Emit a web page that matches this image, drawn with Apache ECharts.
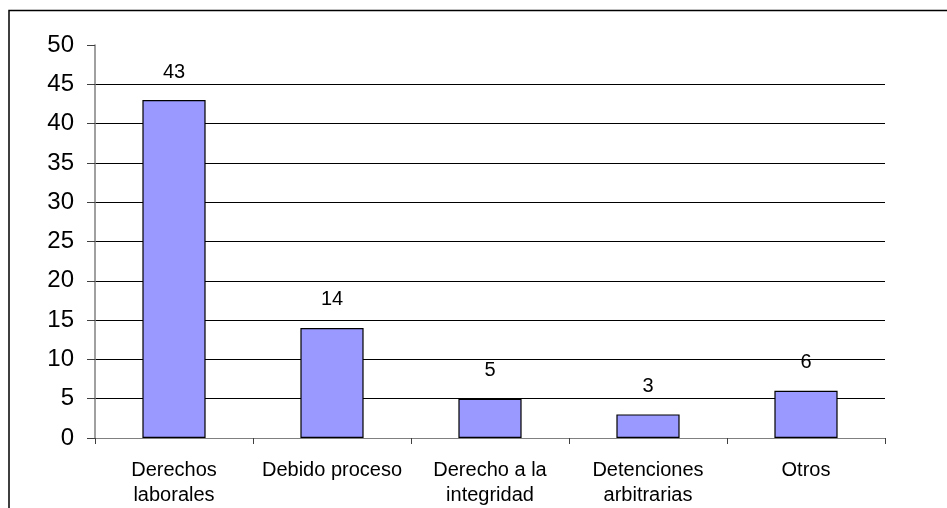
<!DOCTYPE html>
<html>
<head>
<meta charset="utf-8">
<script src="https://cdn.jsdelivr.net/npm/echarts@6/dist/echarts.min.js"></script>
<style>
html,body{margin:0;padding:0;background:#fff;}
#chart{width:947px;height:508px;}
</style>
</head>
<body>
<div id="chart"></div>
<script>
var categories = ['Derechos\nlaborales', 'Debido proceso', 'Derecho a la\nintegridad', 'Detenciones\narbitrarias', 'Otros'];
var values = [43, 14, 5, 3, 6];
var yTicks = {min: 0, max: 50, interval: 5};

var chart = echarts.init(document.getElementById('chart'), null, {renderer: 'canvas'});
var font = '"Liberation Sans", Arial, sans-serif';
chart.setOption({
  animation: false,
  backgroundColor: '#ffffff',
  graphic: [{
    type: 'rect',
    shape: {x: 9, y: 10.5, width: 1000, height: 600},
    style: {fill: 'none', stroke: '#000000', lineWidth: 1.5},
    silent: true
  }],
  grid: {left: 95, right: 62, top: 45, bottom: 70, containLabel: false},
  xAxis: {
    type: 'category',
    data: categories,
    boundaryGap: true,
    axisLine: {show: true, lineStyle: {color: '#808080', width: 1}},
    axisTick: {show: true, length: 6, lineStyle: {color: '#404040'}},
    axisLabel: {color: '#000', fontFamily: font, fontSize: 20, lineHeight: 25, margin: 20, interval: 0}
  },
  yAxis: {
    type: 'value',
    min: yTicks.min, max: yTicks.max, interval: yTicks.interval,
    axisLine: {show: true, lineStyle: {color: '#808080', width: 1.5}},
    axisTick: {show: true, length: 8, lineStyle: {color: '#404040'}},
    axisLabel: {color: '#000', fontFamily: font, fontSize: 24, margin: 21},
    splitLine: {show: true, showMaxLine: false, showMinLine: false, lineStyle: {color: '#000', width: 1}}
  },
  series: [{
    type: 'bar',
    data: values,
    barWidth: '40%',
    itemStyle: {color: '#9999FF', borderColor: '#000', borderWidth: 1.2},
    label: {show: true, position: 'top', distance: 18, color: '#000', fontFamily: font, fontSize: 20}
  }]
});
</script>
</body>
</html>
